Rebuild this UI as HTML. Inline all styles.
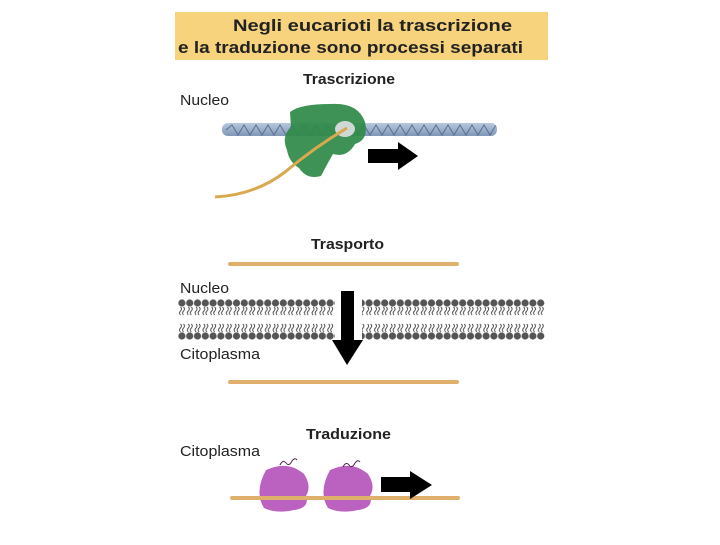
<!DOCTYPE html>
<html><head><style>body{margin:0;background:#fff}</style></head><body>
<svg width="720" height="540" xmlns="http://www.w3.org/2000/svg" font-family="Liberation Sans, sans-serif">
<defs>
<pattern id="mem" x="178" y="0" width="7.8" height="540" patternUnits="userSpaceOnUse">
<circle cx="3.9" cy="303" r="3.6" fill="#555"/>
<circle cx="3.9" cy="336" r="3.6" fill="#555"/>
<path d="M2.5 307 q2 2 0 4 q-2 2 0 4 M5.5 307 q2 2 0 4 q-2 2 0 4 M2.5 324 q2 2 0 4 q-2 2 0 4 M5.5 324 q2 2 0 4 q-2 2 0 4" stroke="#444" stroke-width="0.9" fill="none"/>
</pattern>
<linearGradient id="dna" x1="0" y1="0" x2="0" y2="1"><stop offset="0" stop-color="#b8c8dc"/><stop offset="1" stop-color="#7f96b6"/></linearGradient>
<clipPath id="dc"><rect x="222" y="123" width="275" height="13" rx="6"/></clipPath>
</defs>
<rect x="175" y="12" width="373" height="48" fill="#f6d37c"/>
<text x="233" y="31" font-size="17" font-weight="bold" fill="#222" textLength="279" lengthAdjust="spacingAndGlyphs">Negli eucarioti la trascrizione</text>
<text x="178" y="53" font-size="17" font-weight="bold" fill="#222" textLength="345" lengthAdjust="spacingAndGlyphs">e la traduzione sono processi separati</text>

<text x="303" y="84" font-size="15" font-weight="bold" fill="#222" textLength="92" lengthAdjust="spacingAndGlyphs">Trascrizione</text>
<text x="180" y="105" font-size="15" fill="#222" textLength="49" lengthAdjust="spacingAndGlyphs">Nucleo</text>
<rect x="222" y="123" width="275" height="13" rx="6" fill="url(#dna)"/>
<g clip-path="url(#dc)">
<path d="M226 130 l6 -5 l6 10 l6 -10 l6 10 l6 -10 l6 10 l6 -10 l6 10 l6 -10 l6 10 l6 -10 l6 10 l6 -10 l6 10 l6 -10 l6 10 l6 -10 l6 10 l6 -10 l6 10 l6 -10 l6 10 l6 -10 l6 10 l6 -10 l6 10 l6 -10 l6 10 l6 -10 l6 10 l6 -10 l6 10 l6 -10 l6 10 l6 -10 l6 10 l6 -10 l6 10 l6 -10 l6 10 l6 -10 l6 10 l6 -10 l6 10 l6 -10 l6 10" stroke="#5a6f90" stroke-width="1" fill="none"/>
</g>
<path d="M290 112 q10 -8 40 -8 q28 -2 35 18 q4 18 -10 22 q-8 14 -22 10 q-8 14 -12 22 q-14 4 -22 -8 q-10 -6 -12 -18 q-6 -14 4 -22 z" fill="#2f8a48" opacity="0.93"/>
<ellipse cx="345" cy="129" rx="10" ry="8" fill="#cfd8d4"/>
<path d="M215 197 q40 -2 70 -25 q30 -25 62 -44" stroke="#d9a94f" stroke-width="3" fill="none"/>
<polygon points="368,149 398,149 398,142 418,156 398,170 398,163 368,163" fill="#000"/>

<text x="311" y="249" font-size="15" font-weight="bold" fill="#222" textLength="73" lengthAdjust="spacingAndGlyphs">Trasporto</text>
<rect x="228" y="262" width="231" height="4" rx="2" fill="#dfb06c"/>
<text x="180" y="293" font-size="15" fill="#222" textLength="49" lengthAdjust="spacingAndGlyphs">Nucleo</text>
<rect x="178" y="298" width="157" height="43" fill="url(#mem)"/>
<rect x="362" y="298" width="183" height="43" fill="url(#mem)"/>
<polygon points="341,291 354,291 354,340 363,340 347,365 332,340 341,340" fill="#000"/>
<text x="180" y="359" font-size="15" fill="#222" textLength="80" lengthAdjust="spacingAndGlyphs">Citoplasma</text>
<rect x="228" y="380" width="231" height="4" rx="2" fill="#dfb06c"/>

<text x="306" y="439" font-size="15" font-weight="bold" fill="#222" textLength="85" lengthAdjust="spacingAndGlyphs">Traduzione</text>
<text x="180" y="456" font-size="15" fill="#222" textLength="80" lengthAdjust="spacingAndGlyphs">Citoplasma</text>
<path d="M266 470 q22 -10 38 4 q8 12 2 22 q4 12 -12 14 q-18 4 -30 -2 q-10 -16 2 -38 z" fill="#b450b8" opacity="0.9"/>
<path d="M330 470 q22 -10 38 4 q8 12 2 22 q4 12 -12 14 q-18 4 -30 -2 q-10 -16 2 -38 z" fill="#b450b8" opacity="0.9"/>
<path d="M280 465 q3 -6 6 -2 q3 4 6 -2 q3 -4 5 -1" stroke="#552255" fill="none"/>
<path d="M343 467 q3 -6 6 -2 q3 4 6 -2 q3 -4 5 -1" stroke="#552255" fill="none"/>
<rect x="230" y="496" width="230" height="4" rx="2" fill="#dfb06c"/>
<polygon points="381,477 410,477 410,471 432,485 410,499 410,492 381,492" fill="#000"/>
</svg>
</body></html>
